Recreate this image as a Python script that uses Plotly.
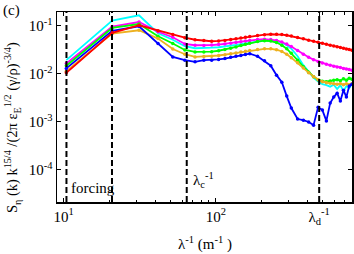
import plotly.graph_objects as go

# ---- data ----
modes = list(range(1, 17)) + [18, 20, 22, 24, 26, 28, 30] + list(range(33, 76, 3))
dk = 10.43  # wavenumber spacing (m^-1)
k = [dk * n for n in modes]

cyan = [0.0193, 0.130, 0.167, 0.0705, 0.0516, 0.0378, 0.0343, 0.0343, 0.0352, 0.0360, 0.0372, 0.0387,
        0.0402, 0.0420, 0.0436, 0.0451, 0.0480, 0.0496, 0.0496, 0.0480, 0.0447, 0.0396, 0.0335,
        0.0234, 0.0152, 0.01084, 0.00834, 0.00688, 0.00610, 0.00582, 0.00541, 0.00596, 0.00480,
        0.00582, 0.00436, 0.00555, 0.00504, 0.00610]
magenta = [0.0165, 0.0972, 0.121, 0.0757, 0.0582, 0.0422, 0.0396, 0.0391, 0.0400, 0.0410, 0.0422, 0.0436,
           0.0453, 0.0469, 0.0484, 0.0499, 0.0521, 0.0528, 0.0521, 0.0499, 0.0462, 0.0420, 0.0372,
           0.0307, 0.0257, 0.0223, 0.0198, 0.0181, 0.0169, 0.0159, 0.0152, 0.0145, 0.0139, 0.0135,
           0.0130, 0.01265, 0.0123, 0.0119]
green = [0.0148, 0.0909, 0.110, 0.0610, 0.0430, 0.0316, 0.0287, 0.0287, 0.0290, 0.0304, 0.0322, 0.0343,
         0.0365, 0.0391, 0.0416, 0.0436, 0.0473, 0.0492, 0.0485, 0.0451, 0.0396, 0.0335, 0.0270,
         0.0193, 0.0141, 0.01084, 0.00875, 0.00757, 0.00705, 0.00688, 0.00711, 0.00740, 0.00757,
         0.00722, 0.00794, 0.00740, 0.00813, 0.00776]
orange = [0.0114, 0.0695, 0.0814, 0.0546, 0.0330, 0.0257, 0.0226, 0.0230, 0.0234, 0.0242, 0.0251, 0.0262,
          0.0274, 0.0286, 0.0297, 0.0307, 0.0324, 0.0333, 0.0333, 0.0319, 0.0293, 0.0257, 0.0218,
          0.0171, 0.0132, 0.0106, 0.00875, 0.00757, 0.00688, 0.00656, 0.00640, 0.00625, 0.00610,
          0.00625, 0.00596, 0.00625, 0.00596, 0.00625]
blue = [0.0130, 0.0794, 0.0986, 0.0430, 0.0226, 0.0193, 0.0178, 0.0193, 0.0193, 0.0200, 0.0209, 0.0221,
        0.0232, 0.0243, 0.0254, 0.0264, 0.0234, 0.0188, 0.0148, 0.0094, 0.00672, 0.00343, 0.00193,
        0.00114, 0.00108, 0.00099, 0.00085, 0.00202, 0.00175, 0.00104, 0.00245, 0.00327, 0.00396,
        0.00270, 0.00457, 0.00327, 0.00555, 0.00610]
red = [0.0105, 0.0722, 0.1034, 0.0794, 0.0665, 0.0568, 0.0516, 0.0496, 0.0480, 0.0487, 0.0499, 0.0519,
       0.0539, 0.0560, 0.0582, 0.0601, 0.0634, 0.0659, 0.0672, 0.0672, 0.0662, 0.0640, 0.0616,
       0.0573, 0.0539, 0.0506, 0.0480, 0.0455, 0.0434, 0.0416, 0.0398, 0.0381, 0.0367, 0.0355,
       0.0341, 0.0330, 0.0321, 0.0312]

forcing_lines = [10.45, 20.8]
lambda_c = 64.4
lambda_d = 477

x_major = [10, 100, lambda_d]
x_major_text = ["10<sup>1</sup>", "10<sup>2</sup>", "λ<sub>d</sub><sup>-1</sup>"]
x_minor = [20, 30, 40, 50, 60, 70, 80, 90, 200, 300, 400, 500, 600, 700]
y_major = [1e-4, 1e-3, 1e-2, 1e-1]
y_major_text = ["10<sup>-4</sup>", "10<sup>-3</sup>", "10<sup>-2</sup>", "10<sup>-1</sup>"]

FONT = "Liberation Serif"

fig = go.Figure()
series = [
    (cyan, "#00ffff", False),
    (magenta, "#ff00ff", True),
    (green, "#00ff00", True),
    (orange, "#edb120", True),
    (blue, "#0000ff", True),
    (red, "#ff0000", True),
]
for vals, col, mk in series:
    fig.add_trace(go.Scatter(
        x=k, y=vals, mode="lines+markers" if mk else "lines",
        line=dict(color=col, width=1.8),
        marker=dict(size=3.5, color=col, symbol="circle"),
        showlegend=False, hoverinfo="skip"))

for xv in forcing_lines + [lambda_c, lambda_d]:
    fig.add_shape(type="line", xref="x", yref="paper", x0=xv, x1=xv, y0=0, y1=1,
                  line=dict(color="black", width=2, dash="6px,3px"))

axis_common = dict(showline=True, linecolor="black", linewidth=1.5, mirror="allticks",
                   ticks="inside", ticklen=4, tickwidth=1, tickcolor="black",
                   showgrid=False, zeroline=False, automargin=False,
                   tickfont=dict(family=FONT, size=15, color="black"))

fig.update_xaxes(type="log", range=[0.957, 2.894], tickmode="array",
                 tickvals=x_major, ticktext=x_major_text,
                 minor=dict(tickvals=x_minor, ticks="inside", ticklen=2.5, tickcolor="black",
                            showgrid=False),
                 **axis_common)
fig.update_yaxes(type="log", range=[-4.676, -0.708], tickmode="array",
                 tickvals=y_major, ticktext=y_major_text, **axis_common)

fig.add_annotation(text="(c)", xref="paper", yref="paper", x=-0.19, y=1.01,
                   xanchor="left", yanchor="middle", showarrow=False,
                   font=dict(family=FONT, size=15, color="black"))
fig.add_annotation(text="forcing", xref="paper", yref="paper", x=0.040, y=0.075,
                   xanchor="left", yanchor="middle", showarrow=False,
                   font=dict(family=FONT, size=15, color="black"))
fig.add_annotation(text="λ<sub>c</sub><sup>-1</sup>", xref="paper", yref="paper", x=0.454, y=0.114,
                   xanchor="left", yanchor="middle", showarrow=False,
                   font=dict(family=FONT, size=15, color="black"))
fig.add_annotation(text="λ<sup>-1</sup> (m<sup>-1</sup> )", xref="paper", yref="paper", x=0.5, y=-0.217,
                   xanchor="center", yanchor="middle", showarrow=False,
                   font=dict(family=FONT, size=15, color="black"))
fig.add_annotation(text="S<sub>η</sub> (k) k<sup>15/4</sup> /(2π ε<sub>E</sub><sup>1/2</sup> (γ/ρ)<sup>-3/4</sup>)",
                   xref="paper", yref="paper", x=-0.150, y=0.393, textangle=-90,
                   xanchor="center", yanchor="middle", showarrow=False,
                   font=dict(family=FONT, size=14.5, color="black"))

fig.update_layout(width=354, height=254, margin=dict(l=57, r=2, t=12, b=52, autoexpand=False),
                  paper_bgcolor="white", plot_bgcolor="white", showlegend=False,
                  font=dict(family=FONT, size=15, color="black"))

fig.write_html("out.html", config={"displayModeBar": False, "staticPlot": True},
               post_script="document.body.style.margin='0';document.body.style.padding='0';")
